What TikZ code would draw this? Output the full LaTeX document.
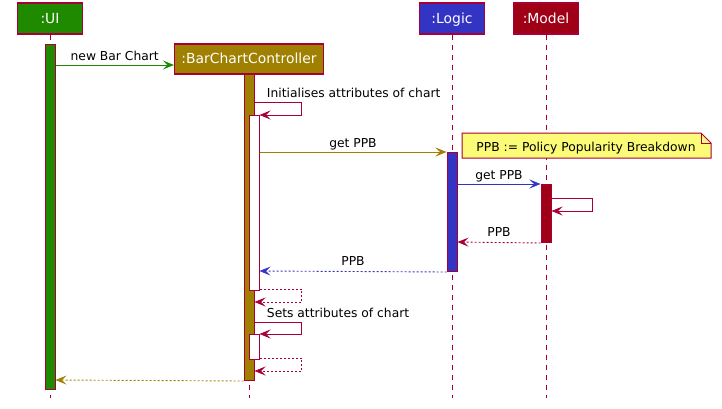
\documentclass[tikz,border=0pt]{standalone}
\usepackage{fontspec}
\setmainfont{DejaVu Sans}
\usetikzlibrary{arrows.meta}

\definecolor{umlred}{HTML}{A80036}
\definecolor{uigreen}{HTML}{1F8A00}
\definecolor{bccgold}{HTML}{A08000}
\definecolor{logicblue}{HTML}{3333C4}
\definecolor{modelred}{HTML}{A00016}
\definecolor{noteyellow}{HTML}{FBFB77}

\tikzset{
  part/.style={draw=umlred, line width=1.2pt, text=white, minimum height=31pt,
    inner sep=0pt, text height=10pt, text depth=0pt, font=\fontsize{13.9}{16}\selectfont},
  act/.style={draw=umlred, line width=1pt, minimum width=10pt, anchor=north, inner sep=0pt},
  life/.style={umlred, line width=0.9pt, dash pattern=on 5pt off 5pt},
  msg/.style={line width=0.9pt, -{Stealth[length=11pt,width=9pt,inset=4.5pt]}},
  ret/.style={msg, dash pattern=on 2pt off 2pt},
  lbl/.style={font=\fontsize{12.3}{14}\selectfont, text=black, inner sep=0pt}
}

\begin{document}
\begin{tikzpicture}[x=1pt,y=-1pt]
\useasboundingbox (0,0) rectangle (722,409);

\node[part, fill=uigreen, minimum width=65pt] (ui) at (50,18.5) {:UI};
\node[part, fill=bccgold, minimum width=149pt, minimum height=30pt] (bcc) at (249,59) {:BarChartController};
\node[part, fill=logicblue, minimum width=65pt] (logic) at (452,18.5) {:Logic};
\node[part, fill=modelred, minimum width=65pt] (model) at (546,18.5) {:Model};

\draw[life] (ui.south) -- (ui.south |- 0,398);
\draw[life] (bcc.south) -- (bcc.south |- 0,398);
\draw[life] (logic.south) -- (logic.south |- 0,398);
\draw[life] (model.south) -- (model.south |- 0,398);

\node[act, fill=uigreen, minimum height=345pt] (uiact) at (50,44) {};
\node[act, fill=bccgold, minimum height=306pt] (bccact) at (249,74) {};
\node[act, fill=white, minimum height=175pt] (bccsub1) at (254,115) {};
\node[act, fill=white, minimum height=25pt] (bccsub2) at (254,334) {};
\node[act, fill=logicblue, minimum height=119pt] (logicact) at (452,152) {};
\node[act, fill=modelred, minimum height=58pt] (modelact) at (546,184) {};

% note
\draw[umlred, line width=1pt, fill=noteyellow]
  (462,133) -- (701,133) -- (711,143) -- (711,158) -- (462,158) -- cycle;
\draw[umlred, line width=1pt] (701,133) -- (701,143) -- (711,143);
\node[lbl, anchor=base] (ppbnote) at (586,151.5) {PPB := Policy Popularity Breakdown};

% calls
\draw[msg, uigreen] (uiact.east |- 0,65) -- node[lbl, anchor=base, yshift=4pt] {new Bar Chart} (bcc.west |- 0,65);
\draw[msg, umlred] (bccact.east |- 0,102)
  node[lbl, anchor=base west, xshift=12pt, yshift=4pt] {Initialises attributes of chart}
  -- ++(47,0) -- ++(0,13) -- (bccsub1.north east);
\draw[msg, bccgold] (bccsub1.east |- 0,152) -- node[lbl, anchor=base, yshift=5pt] {get PPB} (logicact.north west);
\draw[msg, logicblue] (logicact.east |- 0,184) -- node[lbl, anchor=base, yshift=5pt] {get PPB} (modelact.north west);
\draw[msg, umlred] (modelact.east |- 0,198) -- ++(41,0) -- ++(0,13) -- (modelact.east |- 0,211);

% returns
\draw[ret, umlred] (modelact.south west) -- node[lbl, anchor=base, yshift=6pt] {PPB} (logicact.east |- 0,242);
\draw[ret, logicblue] (logicact.south west) -- node[lbl, anchor=base, yshift=6pt] {PPB} (bccsub1.east |- 0,271);
\draw[ret, umlred] (bccsub1.east |- 0,289) -- ++(42,0) -- ++(0,13) -- (bccact.east |- 0,302);
\draw[msg, umlred] (bccact.east |- 0,322)
  node[lbl, anchor=base west, xshift=12pt, yshift=5pt] {Sets attributes of chart}
  -- ++(47,0) -- ++(0,12) -- (bccsub2.north east);
\draw[ret, umlred] (bccsub2.east |- 0,358) -- ++(42,0) -- ++(0,13) -- (bccact.east |- 0,371);
\draw[ret, bccgold] (bccact.south west) -- (uiact.east |- 0,380);
\end{tikzpicture}
\end{document}
